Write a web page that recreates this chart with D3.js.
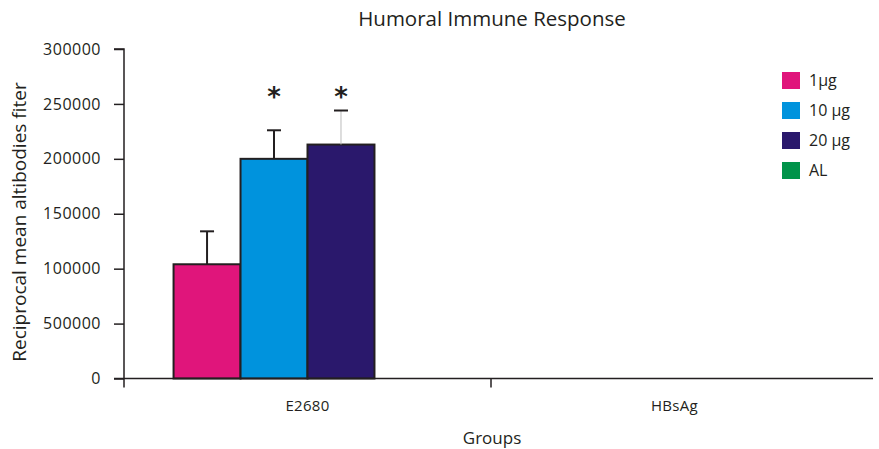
<!DOCTYPE html>
<html>
<head>
<meta charset="utf-8">
<script src="https://cdn.jsdelivr.net/npm/d3@7"></script>
<style>
  body { margin: 0; background: #fff; }
  text { font-family: "Open Sans", sans-serif; fill: #231f20; }
</style>
</head>
<body>
<div id="chart"></div>
<script>
// data
const groups = ["E2680", "HBsAg"];
const seriesNames = ["1\u00b5g", "10 \u00b5g", "20 \u00b5g", "AL"];
const seriesColors = ["#e0157b", "#0093dd", "#2a186c", "#00934a"];
const means = [
  [104000, 0],
  [200000, 0],
  [213000, 0],
  [0, 0]
];
const errors = [
  [30000, 0],
  [26000, 0],
  [31000, 0],
  [0, 0]
];
const significant = [
  [false, false],
  [true, false],
  [true, false],
  [false, false]
];
const yTickValues = [0, 50000, 100000, 150000, 200000, 250000, 300000];
const yTickLabels = ["0", "500000", "100000", "150000", "200000", "250000", "300000"];

const width = 879, height = 449;
const margin = {top: 49, left: 124, right: 6, bottom: 70};

const svg = d3.select("#chart")
  .append("svg")
  .attr("width", width)
  .attr("height", height);

// scales
const xScale = d3.scaleBand()
  .domain(groups)
  .range([margin.left, 858]);

const xInner = d3.scaleBand()
  .domain(d3.range(seriesNames.length))
  .range([0, xScale.bandwidth()])
  .paddingOuter(0.74);

const yScale = d3.scaleLinear()
  .domain([0, 300000])
  .range([height - margin.bottom - 0.5, margin.top]);

// bars
const rows = [];
seriesNames.forEach(function(s, i) {
  groups.forEach(function(g, j) {
    rows.push({series: i, group: g, value: means[i][j], err: errors[i][j], sig: significant[i][j]});
  });
});

const barRows = rows.filter(function(d) { return d.value > 0; });

svg.selectAll("rect.bar")
  .data(barRows)
  .enter()
  .append("rect")
    .attr("class", "bar")
    .attr("x", function(d) { return xScale(d.group) + xInner(d.series); })
    .attr("y", function(d) { return yScale(d.value); })
    .attr("width", xInner.bandwidth())
    .attr("height", function(d) { return yScale(0) - yScale(d.value); })
    .attr("fill", function(d) { return seriesColors[d.series]; })
    .attr("stroke", "#231f20")
    .attr("stroke-width", 2);

// error bars
const errG = svg.selectAll("g.err")
  .data(barRows)
  .enter()
  .append("g")
  .attr("class", "err");

errG.append("line")
  .attr("x1", function(d) { return xScale(d.group) + xInner(d.series) + xInner.bandwidth() / 2; })
  .attr("x2", function(d) { return xScale(d.group) + xInner(d.series) + xInner.bandwidth() / 2; })
  .attr("y1", function(d) { return yScale(d.value); })
  .attr("y2", function(d) { return yScale(d.value + d.err); })
  .attr("stroke", function(d) { return d.series === 2 ? "#bbbbbb" : "#231f20"; })
  .attr("stroke-width", function(d) { return d.series === 2 ? 1 : 2; });

errG.append("line")
  .attr("x1", function(d) { return xScale(d.group) + xInner(d.series) + xInner.bandwidth() / 2 - 7; })
  .attr("x2", function(d) { return xScale(d.group) + xInner(d.series) + xInner.bandwidth() / 2 + 7; })
  .attr("y1", function(d) { return yScale(d.value + d.err); })
  .attr("y2", function(d) { return yScale(d.value + d.err); })
  .attr("stroke", "#231f20")
  .attr("stroke-width", 2);

// significance stars
svg.selectAll("text.star")
  .data(barRows.filter(function(d) { return d.sig; }))
  .enter()
  .append("text")
    .attr("class", "star")
    .attr("x", function(d) { return xScale(d.group) + xInner(d.series) + xInner.bandwidth() / 2; })
    .attr("y", 106)
    .attr("text-anchor", "middle")
    .style("font-size", "26px")
    .style("font-weight", "bold")
    .style("font-family", "DejaVu Sans")
    .text("*");

// y axis
const yAxis = svg.append("g")
  .attr("transform", `translate(${margin.left},0)`)
  .call(d3.axisLeft(yScale)
    .tickValues(yTickValues)
    .tickFormat(function(d, i) { return yTickLabels[i]; })
    .tickSize(10)
    .tickPadding(13));
yAxis.select(".domain").attr("stroke", "#231f20").attr("stroke-width", 1.5)
  .attr("d", `M-10,${yScale(300000)}H0V${yScale(0) + 9}`);
yAxis.selectAll(".tick line").attr("stroke", "#231f20").attr("stroke-width", 1.5);
yAxis.selectAll(".tick text")
  .style("font-size", "16px")
  .style("letter-spacing", "0.5px")
  .attr("fill", "#231f20");

// x axis
const xAxis = svg.append("g")
  .attr("transform", `translate(0,${yScale(0)})`)
  .call(d3.axisBottom(xScale).tickSize(0).tickPadding(22));
xAxis.select(".domain").attr("stroke", "#231f20").attr("stroke-width", 1.5)
  .attr("d", `M${margin.left - 10},0H873`);
xAxis.selectAll(".tick text")
  .style("font-size", "15px")
  .style("letter-spacing", "0.3px")
  .attr("fill", "#231f20");
xAxis.append("line")
  .attr("x1", xScale("HBsAg")).attr("x2", xScale("HBsAg"))
  .attr("y1", 0).attr("y2", 9)
  .attr("stroke", "#231f20").attr("stroke-width", 1.5);

// title and axis labels
svg.append("text")
  .attr("x", 492)
  .attr("y", 26)
  .attr("text-anchor", "middle")
  .style("font-size", "20.5px")
  .text("Humoral Immune Response");

svg.append("text")
  .attr("x", 492)
  .attr("y", 444)
  .attr("text-anchor", "middle")
  .style("font-size", "17px")
  .text("Groups");

svg.append("text")
  .attr("transform", "rotate(-90)")
  .attr("x", -222)
  .attr("y", 26)
  .attr("text-anchor", "middle")
  .style("font-size", "19px")
  .text("Reciprocal mean altibodies fiter");

// legend
const legend = svg.selectAll("g.legend")
  .data(seriesNames)
  .enter()
  .append("g")
  .attr("class", "legend")
  .attr("transform", function(d, i) { return `translate(782,${72 + i * 30})`; });

legend.append("rect")
  .attr("width", 18)
  .attr("height", 17)
  .attr("fill", function(d, i) { return seriesColors[i]; });

legend.append("text")
  .attr("x", 27)
  .attr("y", 14)
  .style("font-size", "16px")
  .text(function(d) { return d; });
</script>
</body>
</html>
